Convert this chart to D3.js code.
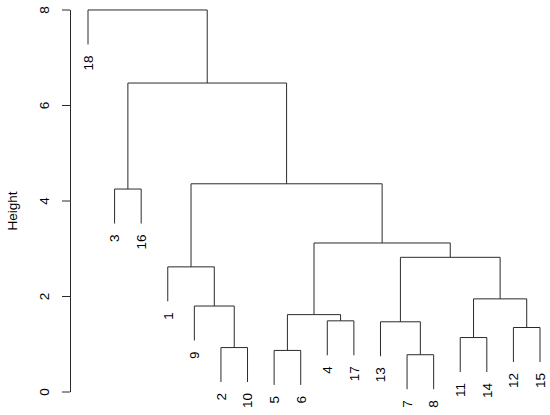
<!DOCTYPE html>
<html>
<head>
<meta charset="utf-8">
<script src="https://cdn.jsdelivr.net/npm/d3@7"></script>
<style>
  html, body { margin: 0; padding: 0; background: #fff; }
  svg { display: block; }
  text { font-family: "Liberation Sans", Arial, sans-serif; fill: #000; }
</style>
</head>
<body>
<svg id="chart" width="550" height="415"></svg>
<script>
// Leaf labels in plotted order
const leafOrder = ["18","3","16","1","9","2","10","5","6","4","17","13","7","8","11","14","12","15"];
// Merge table (R hclust style: negative = leaf label, positive = earlier merge index)
const mergeLeft   = [-7, -5, -2, -11, -12, -13, -4, 2, -9, 4, -1, 6, 8, -3, 11, 14, -18];
const mergeRight  = [-8, -6, -10, -14, -15, 1, -17, 7, 3, 5, 9, 10, 12, -16, 13, 15, 16];
const mergeHeight = [0.77, 0.86, 0.92, 1.13, 1.34, 1.46, 1.48, 1.61, 1.79, 1.94, 2.61, 2.81, 3.11, 4.24, 4.35, 6.46, 7.99];
const yTicks = [0, 2, 4, 6, 8];
const yLabel = "Height";

const svg = d3.select("#chart");
const x = d3.scaleLinear().domain([1, leafOrder.length]).range([88, 540]);
const y = d3.scaleLinear().domain([0, 8]).range([391.5, 9.5]);

const hang = 0.1 * (d3.max(mergeHeight) - d3.min(mergeHeight));
const leafPos = {};
leafOrder.forEach((l, i) => leafPos[l] = i + 1);

const nodes = []; // per merge: {x, h}
function ref(v) {
  if (v < 0) return { leaf: String(-v), x: leafPos[String(-v)] };
  return { x: nodes[v - 1].x, h: nodes[v - 1].h };
}
const g = svg.append("g");
const lineColor = "#2b2b2b";
const leaves = [];
mergeHeight.forEach((h, i) => {
  const a = ref(mergeLeft[i]), b = ref(mergeRight[i]);
  const xm = (a.x + b.x) / 2;
  nodes.push({ x: xm, h: h });
  [a, b].forEach(c => {
    const bottom = c.leaf ? h - hang : c.h;
    if (c.leaf) leaves.push({ label: c.leaf, x: c.x, y: bottom });
    g.append("line")
      .attr("x1", x(c.x)).attr("x2", x(c.x))
      .attr("y1", y(h)).attr("y2", y(bottom))
      .attr("stroke", lineColor).attr("stroke-width", 1);
  });
  g.append("line")
    .attr("x1", x(a.x)).attr("x2", x(b.x))
    .attr("y1", y(h)).attr("y2", y(h))
    .attr("stroke", lineColor).attr("stroke-width", 1);
});

// leaf labels
g.selectAll("text.leaf").data(leaves).join("text")
  .attr("class", "leaf")
  .attr("font-size", 13.5)
  .attr("text-anchor", "end")
  .attr("transform", d => `translate(${x(d.x) + 4.8},${y(d.y) + 11}) rotate(-90)`)
  .text(d => d.label);

// y axis
const axis = d3.axisLeft(y).tickValues(yTicks).tickSize(8).tickSizeOuter(0).tickFormat(d3.format("d"));
const ag = svg.append("g").attr("transform", "translate(70,0)").call(axis);
ag.select(".domain").attr("stroke", lineColor);
ag.selectAll(".tick line").attr("stroke", lineColor);
ag.selectAll(".tick text")
  .attr("x", null).attr("dy", null)
  .attr("font-size", 13.5)
  .attr("font-family", "Liberation Sans, Arial, sans-serif")
  .attr("fill", "#000")
  .attr("text-anchor", "middle")
  .attr("transform", "translate(-21,0) rotate(-90)");

svg.append("text")
  .attr("font-size", 13.5)
  .attr("text-anchor", "middle")
  .attr("transform", "translate(17,211) rotate(-90)")
  .text(yLabel);
</script>
</body>
</html>
